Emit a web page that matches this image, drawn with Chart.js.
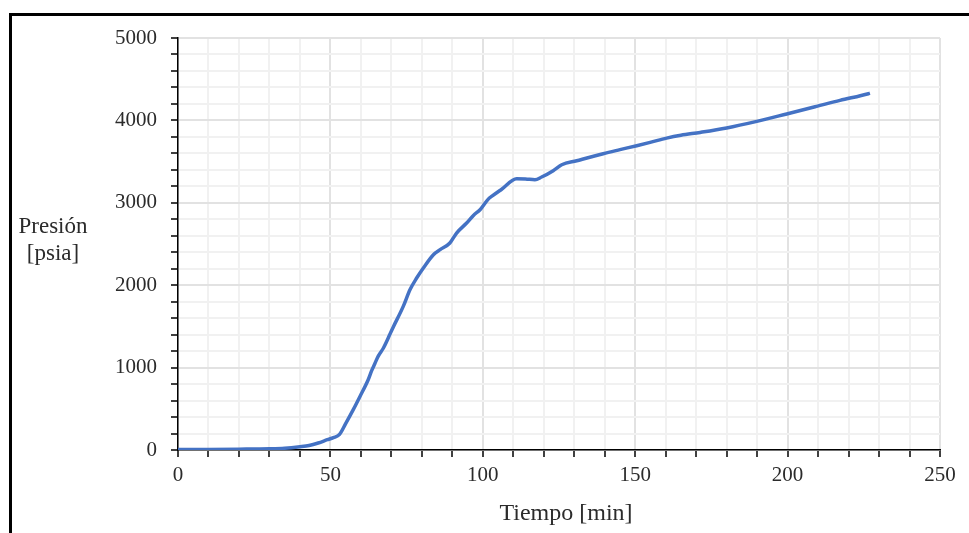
<!DOCTYPE html>
<html>
<head>
<meta charset="utf-8">
<script src="https://cdn.jsdelivr.net/npm/chart.js@4.4.1/dist/chart.umd.min.js"></script>
<style>
  html, body { margin: 0; padding: 0; background: #fff; overflow: hidden; }
  #frame {
    position: absolute; left: 9px; top: 13px;
    width: 1000px; height: 600px;
    border-left: 3px solid #000; border-top: 3px solid #000;
    pointer-events: none;
  }
  #chart { position: absolute; left: 0; top: 0; }
</style>
</head>
<body>
<canvas id="chart" width="969" height="533"></canvas>
<div id="frame"></div>
<script>
// tiempo [min] y presión [psia]
const tiempo = [0, 10, 20, 30, 35, 40, 43, 46, 49, 51, 53, 55, 57.5, 59.7, 62.4, 63.5,
  64.6, 65.7, 67.4, 69.6, 70.6, 73.9, 76.1, 78.3, 80.5, 83.8, 86, 89.2, 91.4, 94.7,
  97, 99.1, 101.8, 103, 106.2, 111.1, 114, 117.1, 119.3, 123.1, 125.9, 130.8, 139.5,
  145, 150.5, 154.9, 160.3, 165, 171.3, 180, 189.9, 199.7, 209.5, 217.2, 226.5, 227];
const presion = [5, 7, 10, 15, 22, 40, 55, 85, 125, 150, 190, 320, 490, 650, 853, 960,
  1050, 1140, 1238, 1410, 1490, 1743, 1945, 2087, 2209, 2370, 2431, 2512, 2633, 2755,
  2850, 2916, 3045, 3080, 3165, 3292, 3290, 3280, 3313, 3390, 3462, 3511, 3596,
  3645, 3693, 3733, 3785, 3820, 3854, 3908, 3988, 4078, 4170, 4243, 4324, 4330];

const xTicksMajor = [0, 50, 100, 150, 200, 250];
const yTicksMajor = [0, 1000, 2000, 3000, 4000, 5000];

const serif = "'Liberation Serif', 'DejaVu Serif', serif";
const textColor = '#2b2b2b';

const puntos = tiempo.map((t, i) => ({ x: t, y: presion[i] }));

// títulos de ejes dibujados a mano (el de Y va horizontal, en dos líneas)
const axisTitles = {
  id: 'axisTitles',
  afterDraw(chart) {
    const ctx = chart.ctx;
    ctx.save();
    ctx.font = '23px ' + serif;
    ctx.fillStyle = textColor;
    ctx.textAlign = 'center';
    ctx.textBaseline = 'middle';
    ctx.fillText('Presión', 53, 227);
    ctx.fillText('[psia]', 53, 254);
    ctx.font = '24px ' + serif;
    ctx.fillText('Tiempo [min]', 566, 514);
    ctx.restore();
  }
};

function gridColor(major) {
  return (c) => major.includes(c.tick.value) ? '#e2e2e2' : '#f1f1f1';
}

new Chart(document.getElementById('chart'), {
  type: 'scatter',
  data: {
    datasets: [{
      data: puntos,
      showLine: true,
      borderColor: '#4472C4',
      borderWidth: 3.5,
      pointRadius: 0,
      cubicInterpolationMode: 'monotone'
    }]
  },
  options: {
    responsive: false,
    animation: false,
    devicePixelRatio: 1,
    layout: { padding: { top: 38, right: 29, left: 0, bottom: 0 } },
    plugins: { legend: { display: false }, tooltip: { enabled: false } },
    scales: {
      x: {
        type: 'linear',
        min: 0, max: 250,
        afterFit: (s) => { s.height = 83; },
        border: { color: '#000', width: 1.5 },
        grid: {
          color: gridColor(xTicksMajor),
          lineWidth: 2,
          tickLength: 7,
          tickColor: '#000',
          tickWidth: 1.5
        },
        ticks: {
          stepSize: 10,
          autoSkip: false,
          maxRotation: 0,
          padding: 6,
          color: textColor,
          font: { family: serif, size: 21 },
          callback: (v) => xTicksMajor.includes(v) ? String(v) : ''
        }
      },
      y: {
        type: 'linear',
        min: 0, max: 5000,
        afterFit: (s) => { s.width = 178; },
        border: { color: '#000', width: 1.5 },
        grid: {
          color: gridColor(yTicksMajor),
          lineWidth: 2,
          tickLength: 7,
          tickColor: '#000',
          tickWidth: 1.5
        },
        ticks: {
          stepSize: 200,
          autoSkip: false,
          padding: 14,
          color: textColor,
          font: { family: serif, size: 21 },
          callback: (v) => yTicksMajor.includes(v) ? String(v) : ''
        }
      }
    }
  },
  plugins: [axisTitles]
});
</script>
</body>
</html>
